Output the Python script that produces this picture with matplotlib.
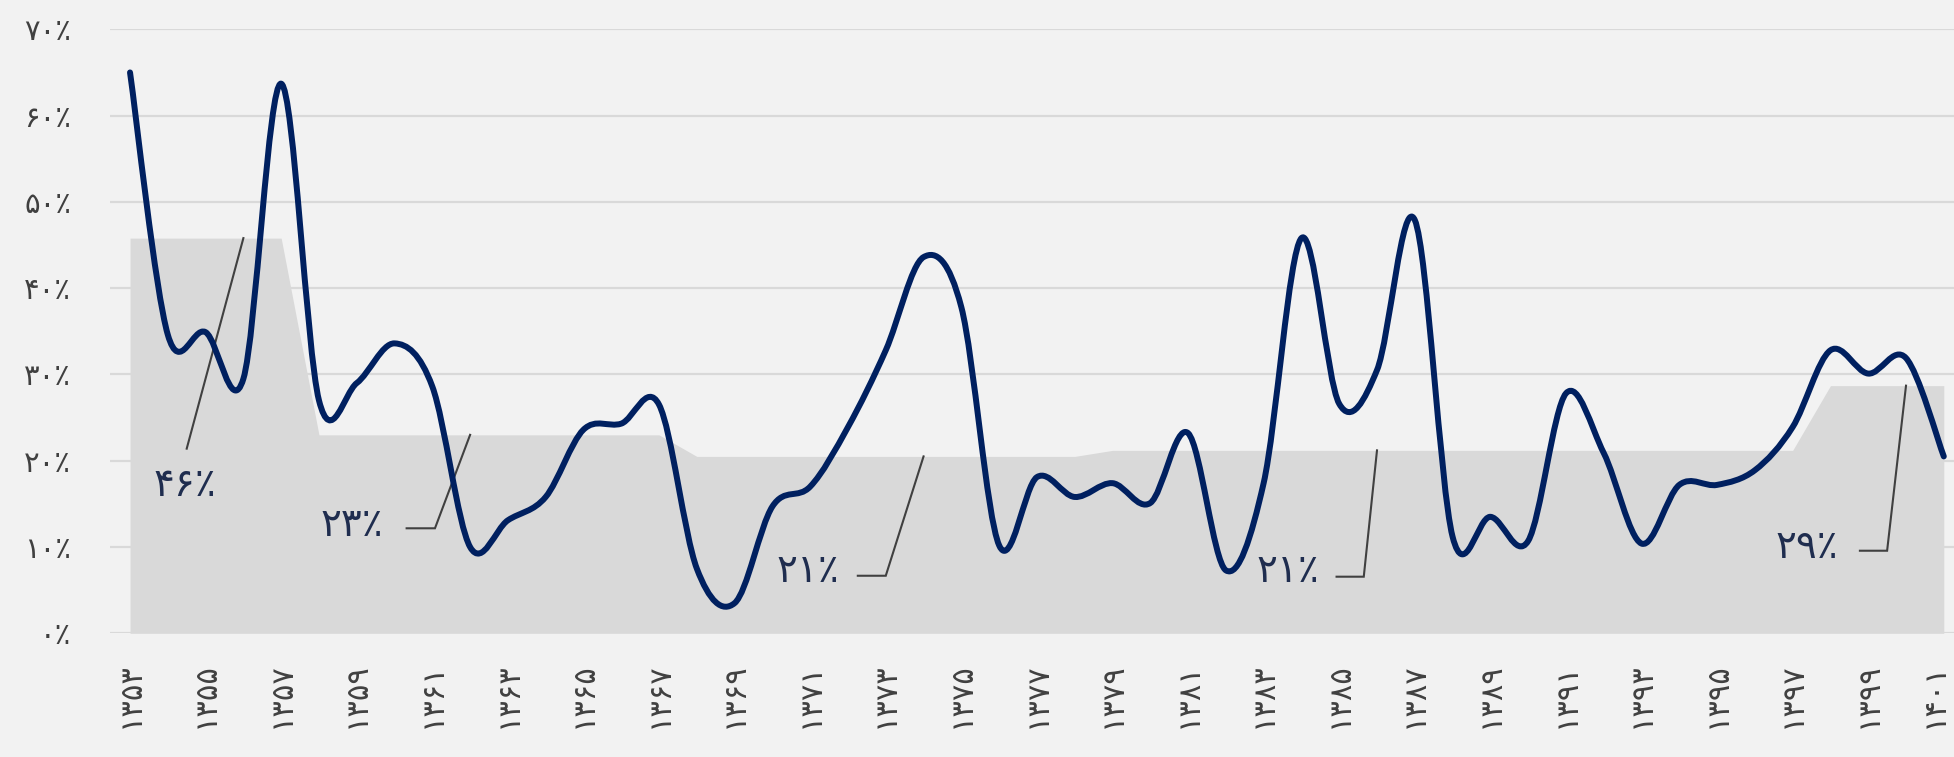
import numpy as np
import matplotlib
matplotlib.use('Agg')
import matplotlib.pyplot as plt
import matplotlib.transforms as mtransforms
from matplotlib.path import Path
from matplotlib.patches import PathPatch

plt.rcParams['font.family'] = ['DejaVu Sans']

# data
years = list(range(1353, 1402))
rate = [65.0, 34.6, 34.9, 29.5, 63.7, 27.0, 29.0, 33.6, 28.6, 10.0,
        13.1, 15.8, 23.6, 24.3, 26.5, 7.5, 3.5, 14.7, 17.0, 23.9,
        32.8, 43.6, 37.8, 10.2, 18.1, 15.8, 17.4, 15.1, 23.2, 7.3,
        17.4, 45.8, 26.6, 30.5, 47.9, 11.2, 13.5, 10.7, 27.8, 20.9,
        10.4, 17.2, 17.2, 18.9, 23.9, 32.8, 30.1, 31.9, 20.5]
period_avg = [45.8]*5 + [23.0]*10 + [20.5]*11 + [21.2]*19 + [28.7]*4
label_years = [1356, 1362, 1374, 1386, 1400]
label_txt = ['۴۶٪', '۲۳٪', '۲۱٪', '۲۱٪', '۲۹٪']
y_ticks = [0, 10, 20, 30, 40, 50, 60, 70]

# callout layout: text centre, knee, end of leader (x in category index, y in %)
callout_text = [(1.45, 17.2), (5.86, 12.5), (17.95, 7.2), (30.64, 7.2), (44.38, 10.0)]
callout_knee = [(1.50, 21.4), (8.07, 12.17), (20.0, 6.67), (32.65, 6.56), (46.5, 9.57)]
callout_end = [(1.50, 21.4), (7.32, 12.17), (19.26, 6.67), (31.93, 6.56), (45.78, 9.57)]

FA = str.maketrans('0123456789', '۰۱۲۳۴۵۶۷۸۹')
def fa(s):
    return str(s).translate(FA)

BG = '#F2F2F2'
NAVY = '#002060'

W, H = 1954, 757
fig = plt.figure(figsize=(W/100, H/100), dpi=100, facecolor=BG)
ax = fig.add_axes([110/W, 123.7/H, 1844/W, 604/H])
ax.set_facecolor(BG)

x = np.arange(len(years))

ax.fill_between(x, period_avg, 0, color='#D9D9D9', lw=0, zorder=1)

# smoothed line (excel style bezier through the points)
pts = list(zip(x, rate))
verts = [pts[0]]
codes = [Path.MOVETO]
n = len(pts)
for i in range(n-1):
    p0 = pts[i-1] if i > 0 else pts[i]
    p1 = pts[i]
    p2 = pts[i+1]
    p3 = pts[i+2] if i+2 < n else pts[i+1]
    c1 = (p1[0] + (p2[0]-p0[0])/6, p1[1] + (p2[1]-p0[1])/6)
    c2 = (p2[0] - (p3[0]-p1[0])/6, p2[1] - (p3[1]-p1[1])/6)
    verts += [c1, c2, p2]
    codes += [Path.CURVE4]*3
ax.add_patch(PathPatch(Path(verts, codes), fill=False, edgecolor=NAVY,
                       lw=4.3, capstyle='round', joinstyle='round', zorder=3))

# callouts
for yr, txt, tp, kn, en in zip(label_years, label_txt, callout_text, callout_knee, callout_end):
    i = years.index(yr)
    ax.plot([i, kn[0], en[0]], [period_avg[i], kn[1], en[1]], color='#404040',
            lw=1.5, zorder=2, solid_joinstyle='miter')
    ax.text(tp[0], tp[1], txt, ha='center', va='center', fontsize=28,
            color='#1F2D4F', zorder=4)

ax.set_ylim(0, 70)
ax.set_xlim(-0.53, 48.27)
ax.set_yticks(y_ticks)
ax.set_yticklabels([fa(v) + '٪' for v in y_ticks], fontsize=21, color='#404040')
ax.set_xticks(x[::2])
ax.set_xticklabels([fa(y) for y in years[::2]], rotation=90, fontsize=22,
                   color='#404040')
ax.tick_params(axis='both', length=0)
ax.tick_params(axis='y', pad=28)
ax.tick_params(axis='x', pad=21)
ax.grid(axis='y', color='#D9D9D9', lw=1.6)
ax.set_axisbelow(True)
for s in ax.spines.values():
    s.set_visible(False)

# last year label sits at the right edge, nudge it in a little
last = ax.get_xticklabels()[-1]
last.set_transform(last.get_transform() +
                   mtransforms.ScaledTranslation(-9/100, 0, fig.dpi_scale_trans))

fig.savefig('out.png', dpi=100, facecolor=BG)
